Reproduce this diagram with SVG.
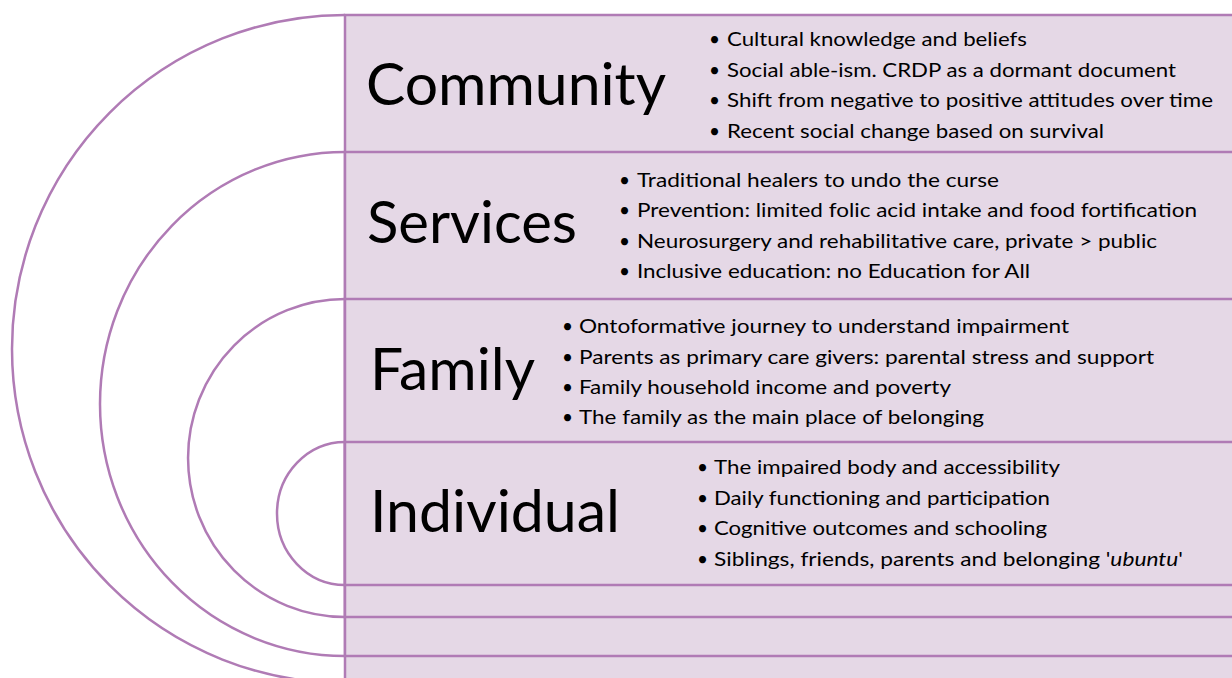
<svg xmlns="http://www.w3.org/2000/svg" width="1232" height="678" viewBox="0 0 1232 678">
<style>
.arc{fill:none;stroke:#B07BB5;stroke-width:2.5}
.band{fill:#E5D8E6;stroke:#B07BB5;stroke-width:2.5}
.title{font-family:Lato,"Open Sans",sans-serif;font-size:58px;fill:#000}
.item{font-family:Lato,"Open Sans",sans-serif;font-size:19px;fill:#000}
.dot{font-family:Lato,"Open Sans",sans-serif;font-size:19px;fill:#000}
</style>
<rect width="1232" height="678" fill="#fff"/>
<g id="community">
<path class="arc" d="M345 15 A333 334 0 0 0 345 683"/>
<rect class="band" x="345" y="15" width="900" height="668"/>
<text class="title" x="366" y="105" textLength="300" lengthAdjust="spacingAndGlyphs">Community</text>
<text class="dot" x="709" y="46">•</text><text class="item" x="727" y="46" textLength="300" lengthAdjust="spacingAndGlyphs">Cultural knowledge and beliefs</text>
<text class="dot" x="709" y="77">•</text><text class="item" x="727" y="77" textLength="449" lengthAdjust="spacingAndGlyphs">Social able-ism. CRDP as a dormant document</text>
<text class="dot" x="709" y="107">•</text><text class="item" x="727" y="107" textLength="486" lengthAdjust="spacingAndGlyphs">Shift from negative to positive attitudes over time</text>
<text class="dot" x="709" y="138">•</text><text class="item" x="727" y="138" textLength="377" lengthAdjust="spacingAndGlyphs">Recent social change based on survival</text>
</g>
<g id="services">
<path class="arc" d="M345 152 A245 252 0 0 0 345 656"/>
<rect class="band" x="345" y="152" width="900" height="504"/>
<text class="title" x="367" y="243" textLength="210" lengthAdjust="spacingAndGlyphs">Services</text>
<text class="dot" x="619" y="187">•</text><text class="item" x="637" y="187" textLength="362" lengthAdjust="spacingAndGlyphs">Traditional healers to undo the curse</text>
<text class="dot" x="619" y="217">•</text><text class="item" x="637" y="217" textLength="560" lengthAdjust="spacingAndGlyphs">Prevention: limited folic acid intake and food fortification</text>
<text class="dot" x="619" y="248">•</text><text class="item" x="637" y="248" textLength="520" lengthAdjust="spacingAndGlyphs">Neurosurgery and rehabilitative care, private &gt; public</text>
<text class="dot" x="619" y="278">•</text><text class="item" x="637" y="278" textLength="393" lengthAdjust="spacingAndGlyphs">Inclusive education: no Education for All</text>
</g>
<g id="family">
<path class="arc" d="M345 299 A157 159 0 0 0 345 617"/>
<rect class="band" x="345" y="299" width="900" height="318"/>
<text class="title" x="370" y="390" textLength="165" lengthAdjust="spacingAndGlyphs">Family</text>
<text class="dot" x="562" y="333">•</text><text class="item" x="579" y="333" textLength="490" lengthAdjust="spacingAndGlyphs">Ontoformative journey to understand impairment</text>
<text class="dot" x="562" y="364">•</text><text class="item" x="579" y="364" textLength="575" lengthAdjust="spacingAndGlyphs">Parents as primary care givers: parental stress and support</text>
<text class="dot" x="562" y="394">•</text><text class="item" x="579" y="394" textLength="372" lengthAdjust="spacingAndGlyphs">Family household income and poverty</text>
<text class="dot" x="562" y="424">•</text><text class="item" x="579" y="424" textLength="405" lengthAdjust="spacingAndGlyphs">The family as the main place of belonging</text>
</g>
<g id="individual">
<path class="arc" d="M345 442 A68 71.5 0 0 0 345 585"/>
<rect class="band" x="345" y="442" width="900" height="143"/>
<text class="title" x="370" y="532" textLength="250" lengthAdjust="spacingAndGlyphs">Individual</text>
<text class="dot" x="697" y="474">•</text><text class="item" x="714" y="474" textLength="346" lengthAdjust="spacingAndGlyphs">The impaired body and accessibility</text>
<text class="dot" x="697" y="505">•</text><text class="item" x="714" y="505" textLength="336" lengthAdjust="spacingAndGlyphs">Daily functioning and participation</text>
<text class="dot" x="697" y="535">•</text><text class="item" x="714" y="535" textLength="333" lengthAdjust="spacingAndGlyphs">Cognitive outcomes and schooling</text>
<text class="dot" x="697" y="566">•</text><text class="item" x="714" y="566" textLength="469" lengthAdjust="spacingAndGlyphs">Siblings, friends, parents and belonging '<tspan font-style="italic">ubuntu</tspan>'</text>
</g>
<g id="connectors"/>
</svg>
